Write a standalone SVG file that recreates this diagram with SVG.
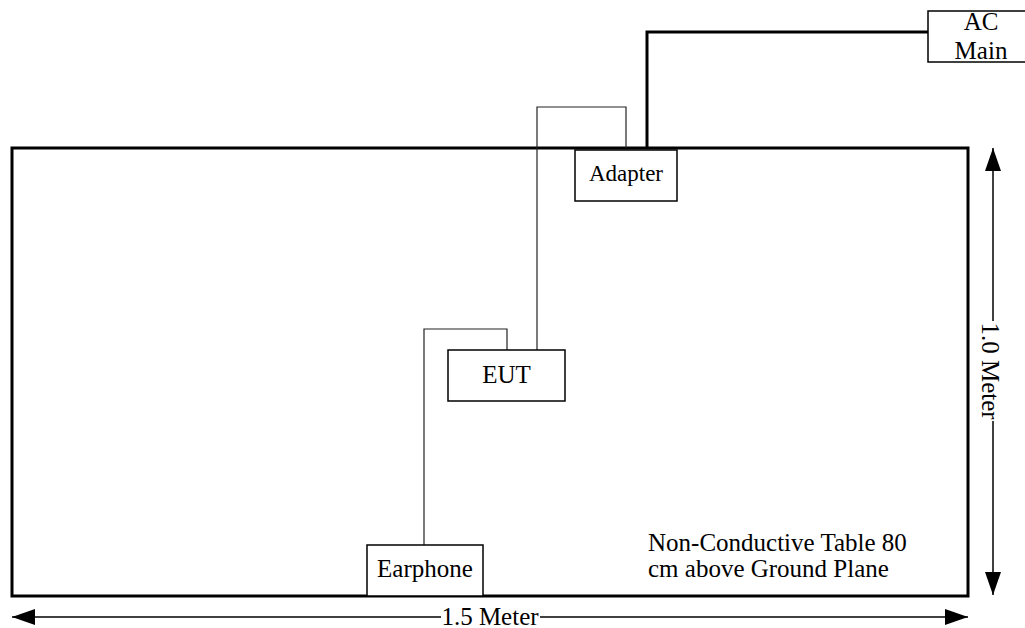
<svg xmlns="http://www.w3.org/2000/svg" width="1025" height="628" viewBox="0 0 1025 628">
<defs>
<style>
text{font-family:"Liberation Serif","Times New Roman",serif;font-size:25px;fill:#000}
.box{fill:#fff;stroke:#000;stroke-width:1.5}
.thin{fill:none;stroke:#222;stroke-width:1.2}
.thick{fill:none;stroke:#000;stroke-width:3}
.dim{fill:none;stroke:#000;stroke-width:1.5}
</style>
<marker id="ah" viewBox="0 0 23 16" refX="23" refY="8" markerWidth="23" markerHeight="16" markerUnits="userSpaceOnUse" orient="auto">
<path d="M0,0 L23,8 L0,16 z" fill="#000"/>
</marker>
</defs>
<rect x="0" y="0" width="1025" height="628" fill="#fff"/>
<g id="table">
<rect x="12" y="148" width="956" height="448" fill="none" stroke="#000" stroke-width="3"/>
<text x="648" y="551">Non-Conductive Table 80</text>
<text x="648" y="577">cm above Ground Plane</text>
</g>
<g id="connectors">
<path class="thick" d="M647,148 V32 H928"/>
<path class="thin" d="M537,350 V107 H626 V148"/>
<path class="thin" d="M507,350 V329 H424 V545"/>
</g>
<g id="ac-main">
<rect class="box" x="928" y="11" width="100" height="51"/>
<text x="981" y="30" text-anchor="middle">AC</text>
<text x="981" y="59" text-anchor="middle">Main</text>
</g>
<g id="adapter">
<rect class="box" x="575" y="150" width="102" height="51"/>
<text x="626" y="181" text-anchor="middle" style="font-size:23px">Adapter</text>
</g>
<g id="eut">
<rect class="box" x="448" y="350" width="117" height="51"/>
<text x="506.5" y="383" text-anchor="middle">EUT</text>
</g>
<g id="earphone">
<rect class="box" x="367" y="545" width="116" height="51"/>
<text x="425" y="577" text-anchor="middle">Earphone</text>
</g>
<g id="dim-width">
<line class="dim" x1="441" y1="617" x2="12" y2="617" marker-end="url(#ah)"/>
<line class="dim" x1="540" y1="617" x2="968" y2="617" marker-end="url(#ah)"/>
<text x="490" y="625" text-anchor="middle">1.5 Meter</text>
</g>
<g id="dim-height">
<line class="dim" x1="993" y1="321" x2="993" y2="148" marker-end="url(#ah)"/>
<line class="dim" x1="993" y1="421" x2="993" y2="595" marker-end="url(#ah)"/>
<text transform="translate(982,371) rotate(90)" x="0" y="0" text-anchor="middle">1.0 Meter</text>
</g>
</svg>
